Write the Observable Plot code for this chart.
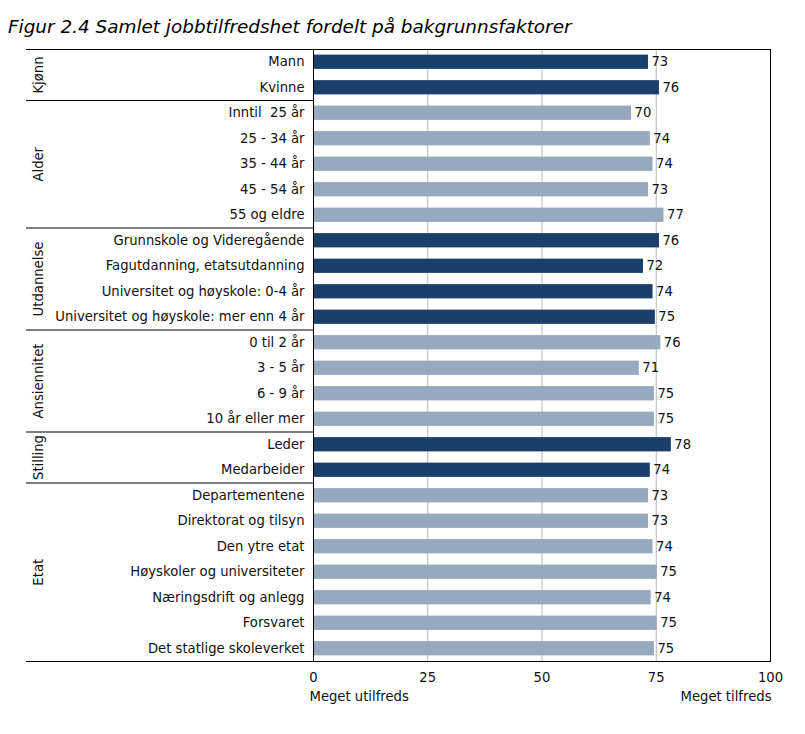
<!DOCTYPE html>
<html>
<head>
<meta charset="utf-8">
<script src="https://cdn.jsdelivr.net/npm/d3@7"></script>
<script src="https://cdn.jsdelivr.net/npm/@observablehq/plot@0.6"></script>
<style>
  html, body { margin: 0; padding: 0; background: #fff; }
  #title { height: 40px; box-sizing: border-box; padding: 17px 0 0 8px; font: italic 18.4px "DejaVu Sans", Verdana, sans-serif; line-height: 20px; color: #000; white-space: nowrap; }
  svg text { white-space: pre; }
</style>
</head>
<body>
<div id="title">Figur 2.4 Samlet jobbtilfredshet fordelt på bakgrunnsfaktorer</div>
<div id="chart"></div>
<script>
// ---- data ----
const groups = ["Kjønn", "Alder", "Utdannelse", "Ansiennitet", "Stilling", "Etat"];
const groupSizes = [2, 5, 4, 4, 2, 7];
const categories = [
  "Mann", "Kvinne",
  "Inntil  25 år", "25 - 34 år", "35 - 44 år", "45 - 54 år", "55 og eldre",
  "Grunnskole og Videregående", "Fagutdanning, etatsutdanning", "Universitet og høyskole: 0-4 år", "Universitet og høyskole: mer enn 4 år",
  "0 til 2 år", "3 - 5 år", "6 - 9 år", "10 år eller mer",
  "Leder", "Medarbeider",
  "Departementene", "Direktorat og tilsyn", "Den ytre etat", "Høyskoler og universiteter", "Næringsdrift og anlegg", "Forsvaret", "Det statlige skoleverket"
];
const values = [
  73.3, 75.7,
  69.6, 73.7, 74.3, 73.3, 76.7,
  75.7, 72.2, 74.3, 74.8,
  76.0, 71.3, 74.6, 74.6,
  78.3, 73.7,
  73.3, 73.3, 74.3, 75.2, 73.9, 75.2, 74.6
];
const valueLabels = [
  73, 76,
  70, 74, 74, 73, 77,
  76, 72, 74, 75,
  76, 71, 75, 75,
  78, 74,
  73, 73, 74, 75, 74, 75, 75
];
const xTicks = [0, 25, 50, 75, 100];
const xEndLabels = ["Meget utilfreds", "Meget tilfreds"];

// ---- derived tables ----
const rows = [];
const groupRows = [];
const boundaries = [0];
let idx = 0;
groups.forEach((g, gi) => {
  const start = idx;
  for (let k = 0; k < groupSizes[gi]; k++) {
    rows.push({i: idx, label: categories[idx], value: values[idx], shown: valueLabels[idx], gi});
    idx++;
  }
  groupRows.push({name: g, mid: (start + idx) / 2});
  boundaries.push(idx);
});

const W = 805, mL = 313, mR = 35, mT = 9, mB = 50, rowH = 25.5;
const H = mT + mB + rowH * categories.length;
const unitPx = (W - mL - mR) / 100;
const leftEdge = -(mL - 26) / unitPx; // left end of the group separator lines (x units)
const dark = "#1b3f6b", light = "#97a9be";
const font = '"DejaVu Sans", Verdana, sans-serif';

const chart = Plot.plot({
  width: W,
  height: H,
  marginLeft: mL,
  marginRight: mR,
  marginTop: mT,
  marginBottom: mB,
  style: {fontFamily: font, fontSize: "13.2px", color: "#111", background: "#fff", overflow: "visible"},
  x: {domain: [0, 100], ticks: xTicks, tickSize: 0, tickPadding: 11, label: null},
  y: {domain: [0, categories.length], reverse: true, axis: null},
  marks: [
    Plot.ruleX([25, 50, 75], {stroke: "#b8b8b8", strokeWidth: 1}),
    Plot.rectX(rows, {
      x1: 0, x2: "value",
      y1: d => d.i + 0.22, y2: d => d.i + 0.78,
      fill: d => (d.gi % 2 === 0 ? dark : light)
    }),
    Plot.text(rows, {
      x: "value", y: d => d.i + 0.5, text: d => String(d.shown),
      textAnchor: "start", dx: 3, fill: "#111"
    }),
    Plot.text(rows, {
      y: d => d.i + 0.5, text: "label", frameAnchor: "left",
      textAnchor: "end", dx: -9, fill: "#111"
    }),
    Plot.text(groupRows, {
      y: "mid", text: "name", frameAnchor: "left", textAnchor: "middle",
      rotate: -90, dx: -275, fill: "#111"
    }),
    Plot.ruleY(boundaries, {y: d => d, x1: leftEdge, x2: 0, stroke: "#000", clip: false}),
    Plot.frame({stroke: "#000"}),
    Plot.text([xEndLabels[0]], {x: 0, text: d => d, frameAnchor: "bottom", textAnchor: "start", dy: 39, dx: -4, fill: "#111"}),
    Plot.text([xEndLabels[1]], {x: 100, text: d => d, frameAnchor: "bottom", textAnchor: "end", dy: 39, dx: 1, fill: "#111"})
  ]
});
document.getElementById("chart").appendChild(chart);
</script>
</body>
</html>
